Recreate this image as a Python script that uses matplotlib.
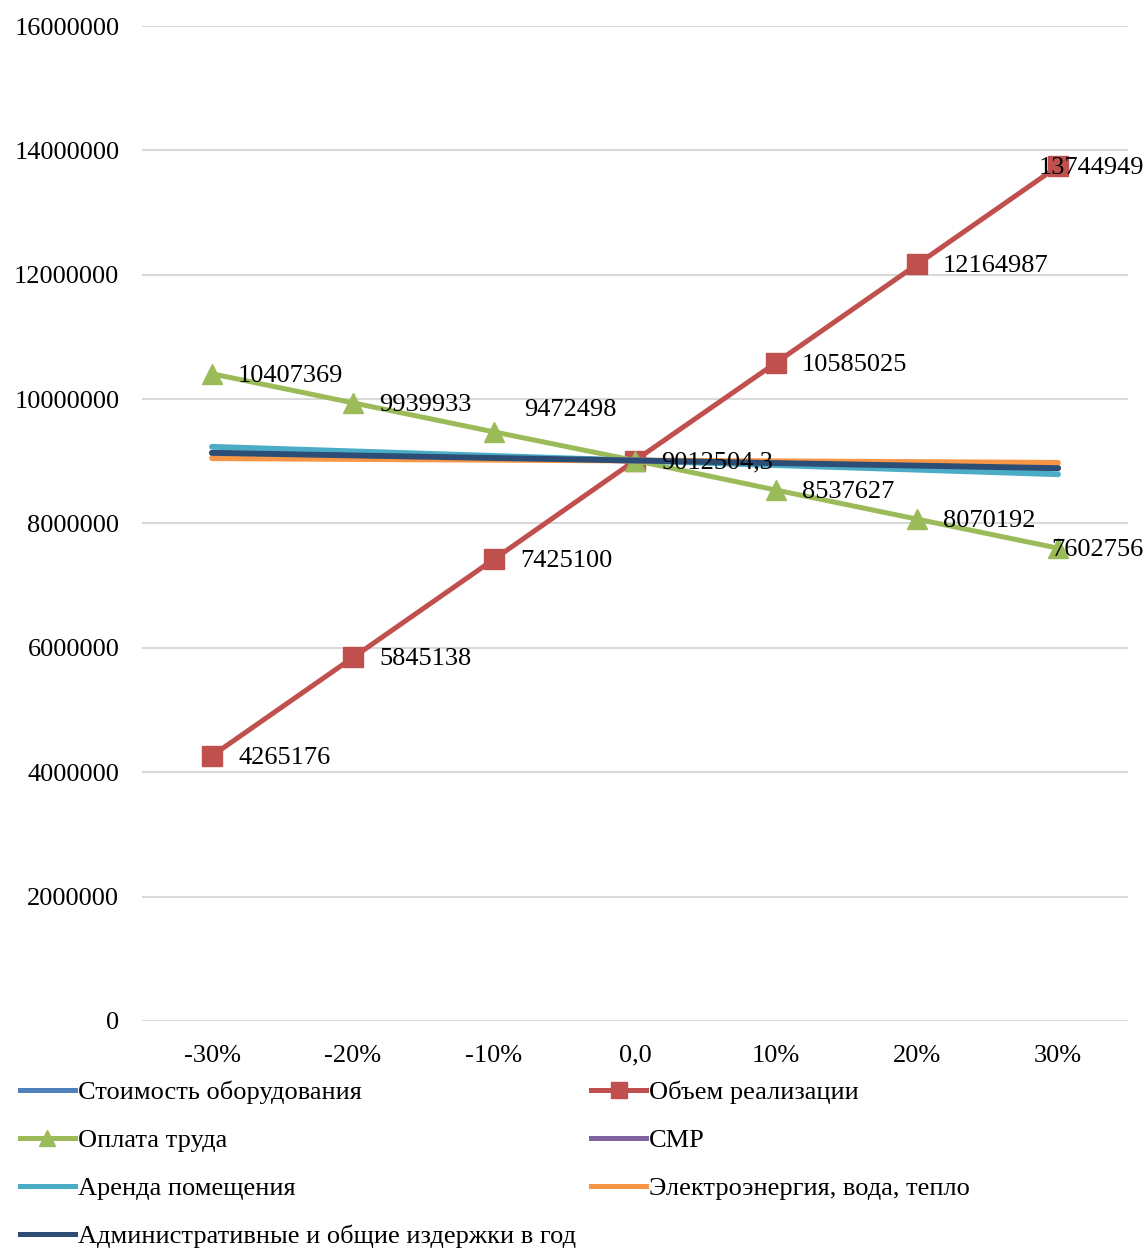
import matplotlib
matplotlib.use("Agg")
import matplotlib.pyplot as plt
from matplotlib.lines import Line2D

plt.rcParams['font.family'] = ['Liberation Serif', 'DejaVu Serif']

categories = ["-30%", "-20%", "-10%", "0,0", "10%", "20%", "30%"]

equipment = [9134000, 9093500, 9053000, 9012504.3, 8972000, 8931500, 8891000]
sales = [4265176, 5845138, 7425100, 9012504.3, 10585025, 12164987, 13744949]
labour = [10407369, 9939933, 9472498, 9012504.3, 8537627, 8070192, 7602756]
construction = [9134000, 9093500, 9053000, 9012504.3, 8972000, 8931500, 8891000]
rent = [9233000, 9159500, 9086000, 9012504.3, 8939000, 8865500, 8792000]
utilities = [9050000, 9037500, 9025000, 9012504.3, 9000000, 8987500, 8975000]
admin = [9135500, 9094500, 9053500, 9012504.3, 8971500, 8930500, 8889500]

names = ["Стоимость оборудования", "Объем реализации", "Оплата труда", "СМР",
         "Аренда помещения", "Электроэнергия, вода, тепло",
         "Административные и общие издержки в год"]
colors = ["#4F81BD", "#C0504D", "#9BBB59", "#8064A2", "#4BACC6", "#F79646", "#2C4D75"]
series = [equipment, sales, labour, construction, rent, utilities, admin]
markers = [None, "s", "^", None, None, None, None]

fig = plt.figure(figsize=(11.48, 12.51), dpi=100)
ax = fig.add_axes([0.1233, 0.1839, 0.8597, 0.7953])

x = list(range(len(categories)))
handles = []
for vals, name, col, mk in zip(series, names, colors, markers):
    lw = 3.6 if mk else 4.2
    h, = ax.plot(x, vals, color=col, lw=lw, marker=mk, markersize=14,
                 markeredgecolor=col, markerfacecolor=col, solid_capstyle="round",
                 label=name)
    handles.append(h)

fs = 19


def fmt(v):
    if v != int(v):
        return f"{v:.1f}".replace(".", ",")
    return str(int(v))


def put_labels(vals, skip_zero=False, up_idx=()):
    for i, v in enumerate(vals):
        if skip_zero and i == 3:
            continue
        txt = fmt(v)
        if i == len(vals) - 1:
            ax.annotate(txt, (i, v), xytext=(86, -2), textcoords="offset pixels",
                        ha="right", va="center", fontsize=fs, annotation_clip=False)
        elif i in up_idx:
            ax.annotate(txt, (i, v), xytext=(30, 22), textcoords="offset pixels",
                        ha="left", va="center", fontsize=fs)
        else:
            ax.annotate(txt, (i, v), xytext=(26, -2), textcoords="offset pixels",
                        ha="left", va="center", fontsize=fs)


put_labels(sales, skip_zero=True)
put_labels(labour, up_idx=(2,))

ax.set_xlim(-0.5, len(categories) - 0.5)
ax.set_ylim(0, 16000000)
ax.set_yticks(range(0, 16000001, 2000000))
ax.set_yticklabels([str(t) for t in range(0, 16000001, 2000000)])
ax.set_xticks(x)
ax.set_xticklabels(categories)
ax.tick_params(axis="both", length=0, labelsize=fs)
ax.tick_params(axis="y", pad=16)
ax.tick_params(axis="x", pad=17)
for s in ax.spines.values():
    s.set_visible(False)
ax.grid(axis="y", color="#D9D9D9", lw=1.5)
ax.set_axisbelow(True)

order = [0, 2, 4, 6, 1, 3, 5]
leg_handles = []
for i in order:
    h = handles[i]
    leg_handles.append(Line2D([0], [0], color=h.get_color(), lw=3.6,
                              marker=h.get_marker() if markers[i] else None,
                              markersize=11, markerfacecolor=h.get_color(),
                              markeredgecolor=h.get_color()))
fig.legend(leg_handles, [names[i] for i in order], ncol=2, loc="upper left",
           bbox_to_anchor=(0.0174, 0.136), frameon=False, fontsize=fs,
           handlelength=2.08, handletextpad=0.1, columnspacing=0.6,
           labelspacing=0.93, borderpad=0, borderaxespad=0)

fig.savefig("out.png", dpi=100)
